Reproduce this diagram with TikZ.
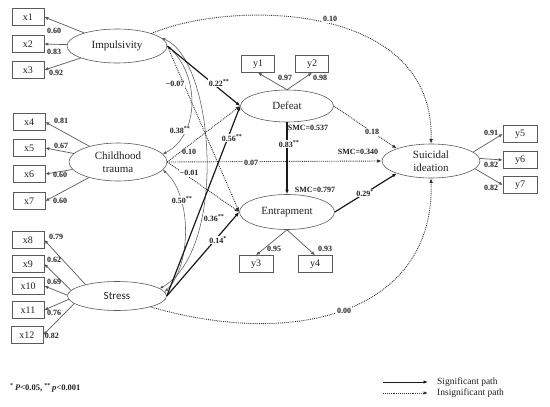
\documentclass[tikz,border=0pt]{standalone}
\usepackage{fontspec}
\setmainfont{Liberation Serif}
\newfontfamily\stressfont{Carlito}
\usepackage{tikz}
\usetikzlibrary{arrows.meta,shapes.geometric}
\definecolor{Edge}{HTML}{5A5A5A}
\definecolor{Path}{HTML}{1A1A1A}
\definecolor{Dots}{HTML}{333333}
\definecolor{Ink}{HTML}{222222}

\begin{document}
\begin{tikzpicture}[x=1pt,y=-1pt,
    latent/.style={ellipse,draw=Edge,line width=0.6pt,inner sep=0.5pt,align=center,text=Ink,font=\fontsize{11}{12}\selectfont},
    item/.style={rectangle,draw=Edge,line width=0.6pt,minimum width=32pt,minimum height=17pt,inner sep=1pt,text=Ink,font=\fontsize{10}{11}\selectfont},
    load/.style={-{Latex[length=4pt,width=3.4pt]},draw=Edge,line width=0.7pt},
    sig/.style={-{Latex[length=4.5pt,width=3.6pt]},line width=1.2pt,draw=Path},
    insig/.style={-{Latex[length=4.5pt,width=3.6pt]},line width=0.9pt,densely dotted,draw=Dots},
    cov/.style={{Latex[length=3.5pt,width=3pt]}-{Latex[length=3.5pt,width=3pt]},line width=0.55pt,draw=Edge},
    coef/.style={font=\fontsize{8}{9}\selectfont\bfseries,text=Ink,inner sep=0.8pt},
    gap/.style={coef,fill=white},
    legend/.style={font=\fontsize{9.5}{10}\selectfont,text=Ink,inner sep=0pt}
]
\useasboundingbox (0,0) rectangle (550,407);

% latent variables
\node[latent,minimum width=100pt,minimum height=34pt] (imp) at (117,46) {Impulsivity};
\node[latent,minimum width=98pt,minimum height=38pt,font=\fontsize{11}{13}\selectfont] (trauma) at (118,162) {Childhood\\trauma};
\node[latent,minimum width=99pt,minimum height=29pt,font=\stressfont\fontsize{11}{12}\selectfont] (stress) at (117,296) {Stress};
\node[latent,minimum width=93pt,minimum height=32pt] (defeat) at (287,106) {Defeat};
\node[latent,minimum width=95pt,minimum height=35pt] (entrap) at (287,212) {Entrapment};
\node[latent,minimum width=98pt,minimum height=34pt,font=\fontsize{11}{13}\selectfont] (suicide) at (431,161) {Suicidal\\ideation};

% observed items
\node[item] (x1) at (28,17) {x1};
\node[item] (x2) at (28,44) {x2};
\node[item] (x3) at (28,70) {x3};
\node[item] (x4) at (29,122) {x4};
\node[item] (x5) at (29,148) {x5};
\node[item] (x6) at (29,174) {x6};
\node[item] (x7) at (29,201) {x7};
\node[item] (x8) at (28,240) {x8};
\node[item] (x9) at (28,264) {x9};
\node[item] (x10) at (28,286) {x10};
\node[item] (x11) at (28,310) {x11};
\node[item] (x12) at (27,335) {x12};
\node[item,minimum width=33pt] (y1) at (258,64) {y1};
\node[item,minimum width=33pt] (y2) at (312,64) {y2};
\node[item,minimum width=34pt] (y3) at (256,264) {y3};
\node[item,minimum width=34pt] (y4) at (315,264) {y4};
\node[item,minimum width=34pt] (y5) at (520,134) {y5};
\node[item,minimum width=34pt] (y6) at (520,160) {y6};
\node[item,minimum width=34pt] (y7) at (520,185) {y7};

% loadings
\draw[load] (imp) -- (x1.east) node[coef] at (54,31) {0.60};
\draw[load] (imp) -- (x2.east) node[coef] at (54,52) {0.83};
\draw[load] (imp) -- (x3.east) node[coef] at (56,73) {0.92};
\draw[load] (trauma) -- (x4.east) node[coef] at (61,121) {0.81};
\draw[load] (trauma) -- (x5.east) node[coef] at (61,146) {0.67};
\draw[load] (trauma) -- (x6.east) node[coef] at (60,175) {0.60};
\draw[load] (trauma) -- (x7.east) node[coef] at (60,201) {0.60};
\draw[load] (stress.160) -- (x8.east) node[coef] at (56,237) {0.79};
\draw[load] (stress.173) -- (x9.east) node[coef] at (54,260) {0.62};
\draw[load] (stress.179) -- (x10.east) node[coef] at (54,282) {0.69};
\draw[load] (stress.184) -- (x11.east) node[coef] at (54,313) {0.76};
\draw[load] (stress.190) -- (x12.east) node[coef] at (52,336) {0.82};
\draw[load] (defeat.north) -- (y1.south) node[coef] at (285,78) {0.97};
\draw[load] (defeat.north) -- (y2.south) node[coef] at (320,78) {0.98};
\draw[load] (entrap.south) -- (y3.north) node[coef] at (274,249) {0.95};
\draw[load] (entrap.south) -- (y4.north) node[coef] at (325,249) {0.93};
\draw[load] (suicide.12) -- (y5.west) node[coef] at (491,133) {0.91};
\draw[load] (suicide.3) -- (y6.west) node[coef] at (491,165) {0.82};
\draw[load] (suicide.-10) -- (y7.west) node[coef] at (491,188) {0.82};

% covariances
\draw[cov] (imp.east) .. controls (200,75) and (200,135) .. (trauma.10) node[gap] at (180,130) {0.38\textsuperscript{**}};
\draw[cov] (trauma.-10) .. controls (192,195) and (192,265) .. (stress.5) node[gap] at (182,200) {0.50\textsuperscript{**}};
\draw[cov] (imp.10) .. controls (215,60) and (228,250) .. (stress.10) node[coef] at (214,218) {0.36\textsuperscript{**}};

% structural paths
\draw[insig] (imp.east) -- (entrap.west) node[gap] at (175,84) {−0.07};
\draw[insig] (trauma.east) -- (defeat.west) node[coef] at (189,152) {0.10};
\draw[insig] (trauma.east) -- (entrap.west) node[gap] at (189,173) {−0.01};
\draw[insig] (trauma.east) -- (suicide.west) node[gap] at (251,163) {0.07} node[coef] at (358,152) {SMC=0.340};
\draw[sig] (imp.east) -- (defeat.west) node[gap] at (219,83) {0.22\textsuperscript{**}};
\draw[sig] (stress.east) -- (defeat.west) node[gap] at (232,138) {0.56\textsuperscript{**}};
\draw[sig] (stress.east) -- (entrap.west) node[gap] at (218,240) {0.14\textsuperscript{*}};
\draw[sig] (defeat.south) -- (entrap.north) node[gap] at (289,144) {0.83\textsuperscript{**}}
    node[coef] at (308,128) {SMC=0.537} node[coef] at (315,190) {SMC=0.797};
\draw[insig] (defeat.east) -- (suicide.160) node[gap] at (372,132) {0.18};
\draw[sig] (entrap.east) -- (suicide.200) node[gap] at (365,193) {0.29\textsuperscript{*}};
\draw[insig] (imp.20) .. controls (230,0) and (435,0) .. (suicide.north) node[gap] at (330,19) {0.10};
\draw[insig] (stress.-18) .. controls (300,350) and (435,310) .. (suicide.south) node[gap] at (344,311) {0.00};

% note and legend
\node[legend,anchor=west,font=\fontsize{8.5}{9}\selectfont\bfseries] (pnote) at (10,388) {\textsuperscript{*}\,\textit{P}<0.05, \textsuperscript{**}\,\textit{p}<0.001};
\coordinate (sigA) at (383,382);
\coordinate (sigB) at (428,382);
\coordinate (insA) at (383,393);
\coordinate (insB) at (428,393);
\draw[sig,line width=0.8pt] (sigA) -- (sigB);
\draw[insig,line width=0.8pt] (insA) -- (insB);
\node[legend,anchor=west] (sigtxt) at (437,382) {Significant path};
\node[legend,anchor=west] (instxt) at (437,393) {Insignificant path};
\end{tikzpicture}
\end{document}
